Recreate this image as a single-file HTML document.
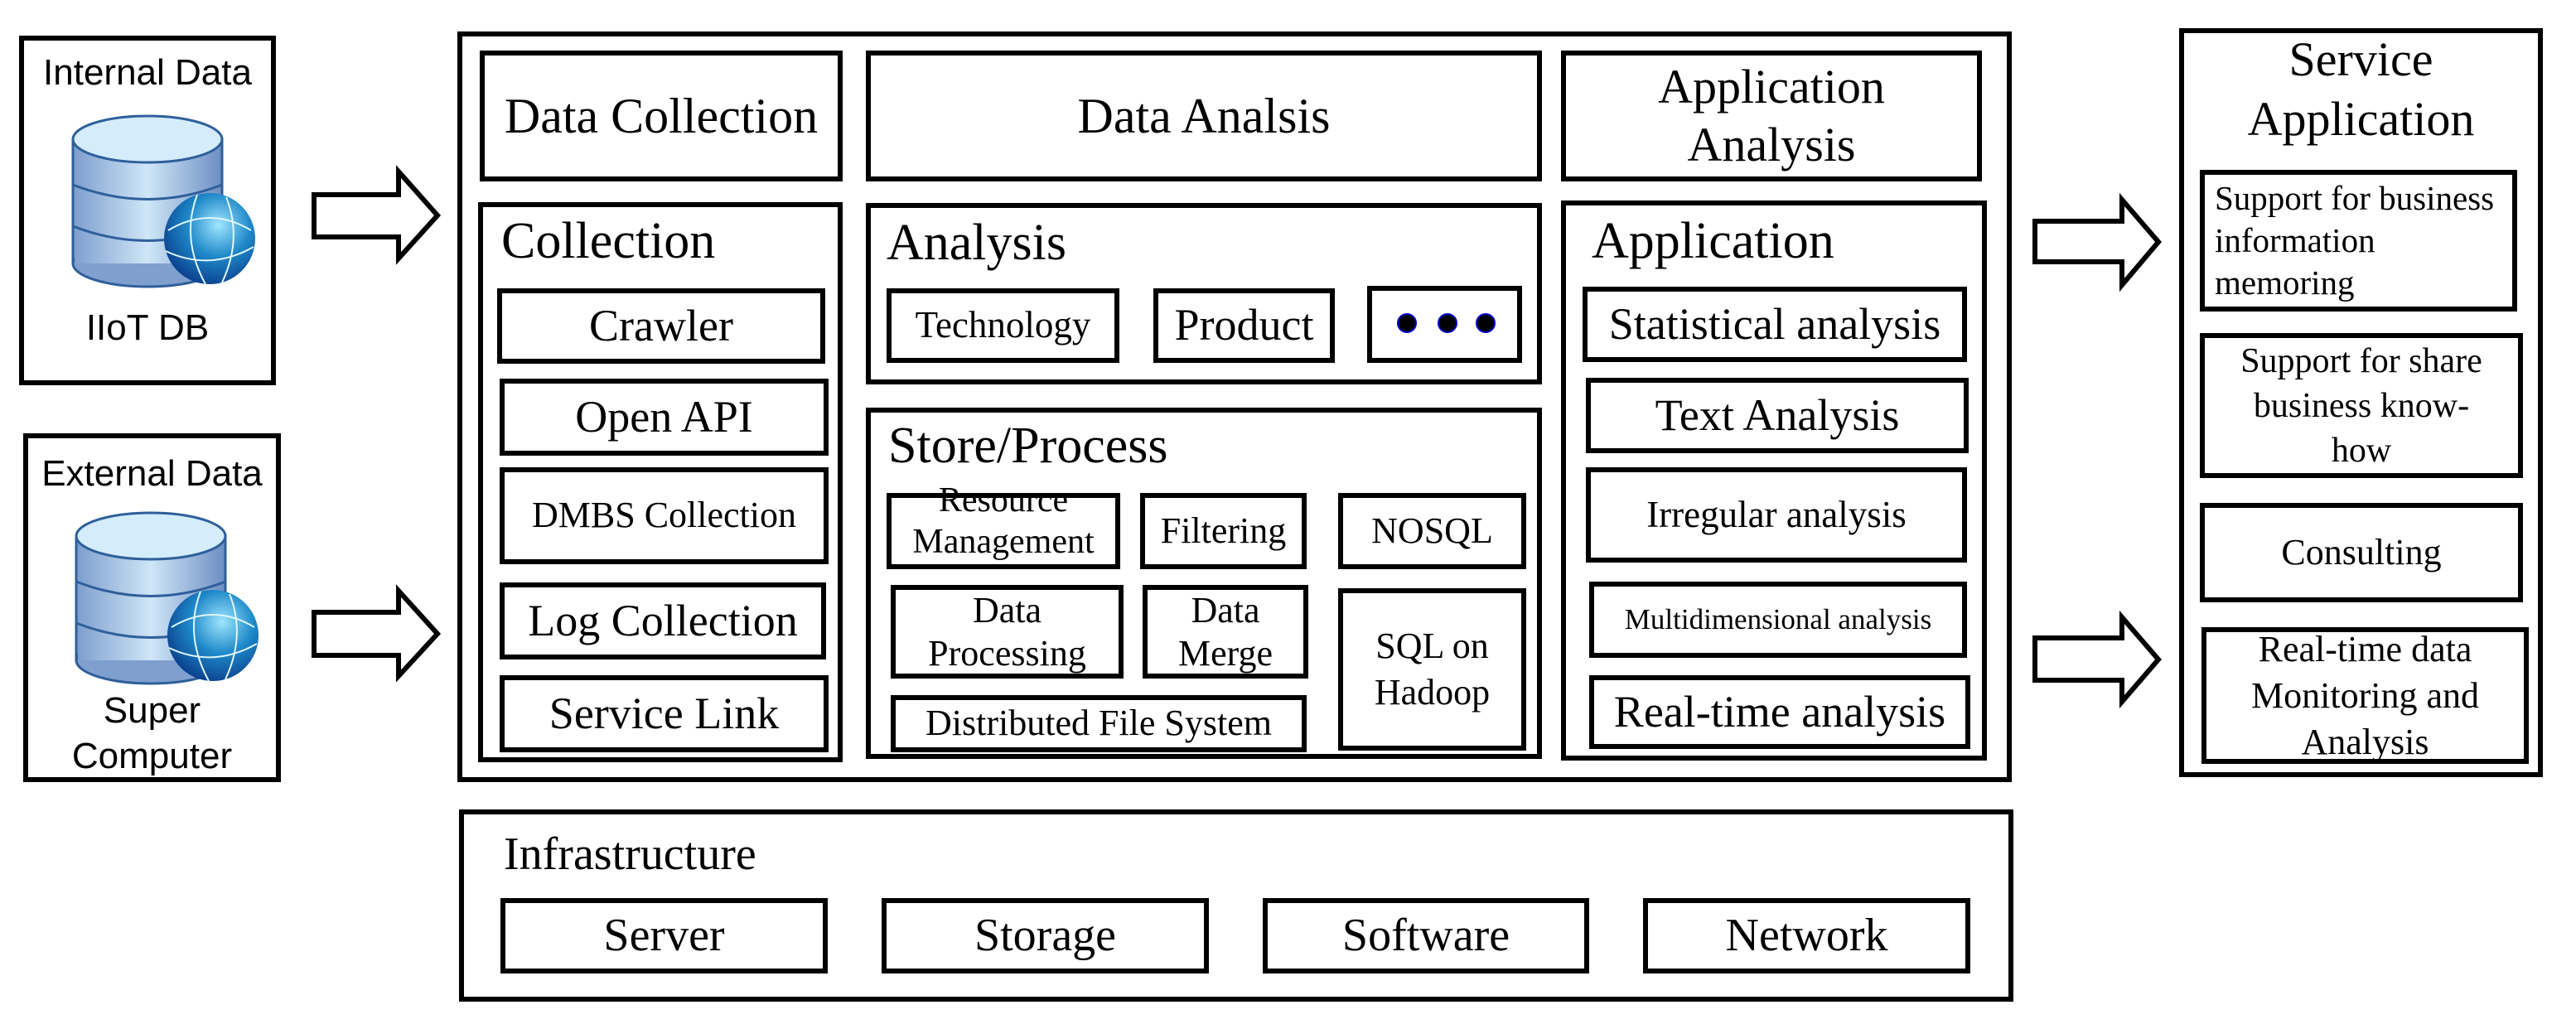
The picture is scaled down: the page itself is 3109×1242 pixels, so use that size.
<!DOCTYPE html>
<html><head><meta charset="utf-8">
<style>
html,body{margin:0;padding:0;background:#fff;}
#c{position:relative;width:3109px;height:1242px;overflow:hidden;background:#fff;font-family:"Liberation Serif",serif;color:#000;}
.b{position:absolute;box-sizing:border-box;border:6px solid #000;display:flex;align-items:center;justify-content:center;text-align:center;line-height:1.1;}
.t{position:absolute;white-space:nowrap;line-height:1;}
.s{font-family:"Liberation Sans",sans-serif;}
</style></head><body>
<div id="c">
<div class="b" style="left:23px;top:43px;width:310px;height:422px;"></div>
<div class="t s" style="left:23px;width:310px;text-align:center;top:66px;font-size:44px;">Internal Data</div>
<div class="t s" style="left:23px;width:310px;text-align:center;top:374px;font-size:44px;">IIoT DB</div>
<div class="b" style="left:28px;top:523px;width:311px;height:421px;"></div>
<div class="t s" style="left:28px;width:311px;text-align:center;top:550px;font-size:44px;">External Data</div>
<div class="t s" style="left:28px;width:311px;text-align:center;top:830px;font-size:44px;line-height:55px;">Super<br>Computer</div>

<svg style="position:absolute;left:0;top:0" width="3109" height="1242">
<defs>
<linearGradient id="cy" x1="0" x2="1" y1="0" y2="0">
<stop offset="0" stop-color="#7f9fcf"/><stop offset="0.5" stop-color="#cfe6f7"/><stop offset="1" stop-color="#6f90c4"/></linearGradient>
<radialGradient id="gl" cx="0.6" cy="0.35" r="0.7">
<stop offset="0" stop-color="#9fe6ff"/><stop offset="0.5" stop-color="#1e88c8"/><stop offset="1" stop-color="#0a3c8a"/></radialGradient>
<g id="db">
<rect x="0" y="30" width="180" height="150" fill="url(#cy)" stroke="#2f5f9a" stroke-width="3"/>
<ellipse cx="90" cy="180" rx="90" ry="28" fill="#7f9fcf" stroke="#2f5f9a" stroke-width="3"/>
<rect x="2" y="30" width="176" height="150" fill="url(#cy)"/>
<path d="M0 85 Q90 120 180 85 M0 135 Q90 170 180 135" fill="none" stroke="#2f5f9a" stroke-width="3"/>
<ellipse cx="90" cy="30" rx="90" ry="28" fill="#d4ecfb" stroke="#2f5f9a" stroke-width="3"/>
<circle cx="165" cy="150" r="55" fill="url(#gl)"/>
<path d="M115 140 Q165 110 215 140 M112 165 Q165 190 218 160 M150 97 Q130 150 160 205 M185 100 Q205 150 180 203" fill="none" stroke="#dff6ff" stroke-width="2"/>
</g>
</defs>
<use href="#db" x="88" y="138"/>
<use href="#db" x="92" y="617"/>
<g fill="#fff" stroke="#000" stroke-width="6" stroke-linejoin="miter">
<polygon points="379,235 481,235 481,207 528,260 481,312 481,286 379,286"/>
<polygon points="379,739 481,739 481,713 528,765 481,816 481,791 379,791"/>
<polygon points="2456,267 2561,267 2561,241 2605,292 2561,344 2561,316 2456,316"/>
<polygon points="2456,770 2561,770 2561,745 2605,796 2561,847 2561,821 2456,821"/>
</g>
<circle cx="1698" cy="390" r="11" fill="#000" stroke="#00c" stroke-width="2"/>
<circle cx="1747" cy="390" r="11" fill="#000" stroke="#00c" stroke-width="2"/>
<circle cx="1793" cy="390" r="11" fill="#000" stroke="#00c" stroke-width="2"/>
</svg>

<div class="b" style="left:552px;top:38px;width:1876px;height:906px;"></div>
<div class="b" style="left:579px;top:61px;width:438px;height:158px;font-size:60px;">Data Collection</div>
<div class="b" style="left:1045px;top:61px;width:816px;height:158px;font-size:60px;">Data Analsis</div>
<div class="b" style="left:1884px;top:61px;width:508px;height:158px;font-size:58px;line-height:70px;">Application<br>Analysis</div>

<div class="b" style="left:577px;top:244px;width:440px;height:676px;"></div>
<div class="t" style="left:605px;top:260px;font-size:62px;">Collection</div>
<div class="b" style="left:600px;top:348px;width:396px;height:91px;font-size:54px;">Crawler</div>
<div class="b" style="left:603px;top:457px;width:397px;height:93px;font-size:54px;">Open API</div>
<div class="b" style="left:603px;top:564px;width:397px;height:117px;font-size:44px;">DMBS Collection</div>
<div class="b" style="left:603px;top:703px;width:394px;height:93px;font-size:54px;">Log Collection</div>
<div class="b" style="left:603px;top:815px;width:397px;height:93px;font-size:54px;">Service Link</div>

<div class="b" style="left:1045px;top:245px;width:816px;height:219px;"></div>
<div class="t" style="left:1070px;top:262px;font-size:62px;">Analysis</div>
<div class="b" style="left:1070px;top:348px;width:281px;height:90px;font-size:45px;">Technology</div>
<div class="b" style="left:1392px;top:348px;width:219px;height:90px;font-size:54px;">Product</div>
<div class="b" style="left:1650px;top:345px;width:187px;height:93px;"></div>

<div class="b" style="left:1045px;top:492px;width:816px;height:424px;"></div>
<div class="t" style="left:1072px;top:507px;font-size:62px;">Store/Process</div>
<div class="b" style="left:1070px;top:595px;width:282px;height:92px;font-size:42px;align-items:flex-start;line-height:50px;"><div style="margin-top:-22px;">Resource<br>Management</div></div>
<div class="b" style="left:1376px;top:595px;width:201px;height:92px;font-size:44px;">Filtering</div>
<div class="b" style="left:1615px;top:595px;width:227px;height:92px;font-size:44px;">NOSQL</div>
<div class="b" style="left:1075px;top:706px;width:281px;height:113px;font-size:44px;line-height:52px;">Data<br>Processing</div>
<div class="b" style="left:1379px;top:706px;width:200px;height:113px;font-size:44px;line-height:52px;">Data<br>Merge</div>
<div class="b" style="left:1615px;top:710px;width:227px;height:196px;font-size:44px;line-height:56px;">SQL on<br>Hadoop</div>
<div class="b" style="left:1075px;top:839px;width:502px;height:69px;font-size:44px;">Distributed File System</div>

<div class="b" style="left:1884px;top:242px;width:514px;height:676px;"></div>
<div class="t" style="left:1921px;top:260px;font-size:62px;">Application</div>
<div class="b" style="left:1910px;top:346px;width:464px;height:91px;font-size:54px;">Statistical analysis</div>
<div class="b" style="left:1914px;top:456px;width:462px;height:91px;font-size:54px;">Text Analysis</div>
<div class="b" style="left:1914px;top:564px;width:460px;height:115px;font-size:45px;">Irregular analysis</div>
<div class="b" style="left:1918px;top:702px;width:456px;height:92px;font-size:35px;">Multidimensional analysis</div>
<div class="b" style="left:1918px;top:815px;width:460px;height:89px;font-size:54px;">Real-time analysis</div>

<div class="b" style="left:554px;top:977px;width:1876px;height:232px;"></div>
<div class="t" style="left:608px;top:1003px;font-size:56px;">Infrastructure</div>
<div class="b" style="left:604px;top:1084px;width:395px;height:91px;font-size:56px;">Server</div>
<div class="b" style="left:1064px;top:1084px;width:395px;height:91px;font-size:56px;">Storage</div>
<div class="b" style="left:1524px;top:1084px;width:394px;height:91px;font-size:56px;">Software</div>
<div class="b" style="left:1983px;top:1084px;width:395px;height:91px;font-size:56px;">Network</div>

<div class="b" style="left:2630px;top:34px;width:439px;height:904px;"></div>
<div class="t" style="left:2630px;width:439px;text-align:center;top:36px;font-size:58px;line-height:72px;">Service<br>Application</div>
<div class="b" style="left:2655px;top:205px;width:383px;height:171px;font-size:41px;line-height:51px;justify-content:flex-start;text-align:left;padding-left:12px;">Support for business<br>information<br>memoring</div>
<div class="b" style="left:2655px;top:402px;width:390px;height:175px;font-size:42px;line-height:54px;">Support for share<br>business know-<br>how</div>
<div class="b" style="left:2655px;top:607px;width:390px;height:120px;font-size:44px;">Consulting</div>
<div class="b" style="left:2657px;top:757px;width:395px;height:165px;font-size:44px;line-height:56px;">Real-time data<br>Monitoring and<br>Analysis</div>
</div>
</body></html>
